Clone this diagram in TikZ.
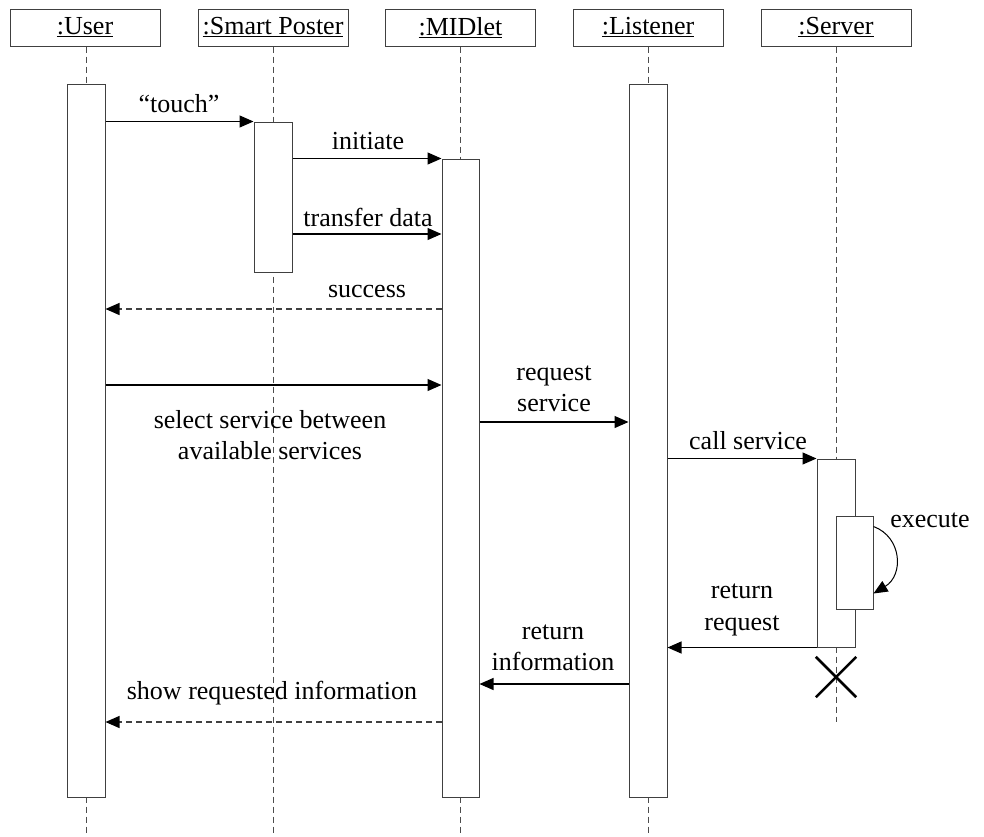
\documentclass[tikz,border=0pt]{standalone}
\usepackage{fontspec}
\setmainfont{Liberation Serif}
\usetikzlibrary{arrows.meta}
\tikzset{
  obj/.style={draw=black!75, line width=1pt, fill=white, minimum width=150pt, minimum height=37pt, inner sep=0pt, font=\fontsize{26}{31}\selectfont},
  act/.style={draw=black!75, line width=1pt, fill=white, minimum width=38pt, inner sep=0pt},
  life/.style={draw=black!70, line width=1pt, dash pattern=on 6pt off 4pt},
  msg/.style={draw=black, line width=1.2pt, -{Triangle[length=14pt,width=12pt]}},
  reply/.style={draw=black!75, line width=1.2pt, dash pattern=on 6pt off 4pt, -{Triangle[length=14pt,width=12pt,color=black]}},
  lbl/.style={font=\fontsize{26}{31.5}\selectfont, align=center, inner sep=0pt},
}
\begin{document}
\begin{tikzpicture}[x=1pt,y=-1pt]
\useasboundingbox (0,0) rectangle (984,836);
% object heads
\node[obj] (user) at (85,27.5) {\underline{:User}};
\node[obj] (poster) at (273,27.5) {\underline{:Smart Poster}};
\node[obj] (midlet) at (460.5,27.5) {\underline{:MIDlet}};
\node[obj] (listener) at (648,27.5) {\underline{:Listener}};
\node[obj] (server) at (836,27.5) {\underline{:Server}};
% lifelines
\coordinate (userend) at (86,836);
\coordinate (posterend) at (273,836);
\coordinate (midletend) at (460.5,836);
\coordinate (listenerend) at (648,836);
\coordinate (serverend) at (836,722);
\draw[life] (user.south -| userend) -- (userend);
\draw[life] (poster.south) -- (posterend);
\draw[life] (midlet.south) -- (midletend);
\draw[life] (listener.south) -- (listenerend);
\draw[life] (server.south) -- (serverend);
% activation bars
\node[act, minimum height=713pt] (uact) at (86,440.5) {};
\node[act, minimum height=150pt] (pact) at (273,197) {};
\node[act, minimum width=37pt, minimum height=638pt] (mact) at (460.5,478) {};
\node[act, minimum height=713pt] (lact) at (648,440.5) {};
\node[act, minimum height=188pt] (sact) at (836,553) {};
\node[act, minimum width=37pt, minimum height=93pt] (eact) at (854.5,562.5) {};
% destruction mark
\node[minimum size=40pt, inner sep=0pt] (kill) at (836,677) {};
\draw[line width=2.5pt] (kill.north west) -- (kill.south east)
  (kill.north east) -- (kill.south west);
% messages
\draw[msg] (uact.east |- pact.north) -- (pact.west |- pact.north);
\node[lbl] (t1) at (179,104) {“touch”};
\draw[msg] (pact.east |- mact.north) -- (mact.west |- mact.north);
\node[lbl] (t2) at (368,141) {initiate};
\coordinate (ytd) at (0,234);
\draw[msg] (pact.east |- ytd) -- (mact.west |- ytd);
\node[lbl] (t3) at (368,217) {transfer data};
\coordinate (ysu) at (0,309);
\draw[reply] (mact.west |- ysu) -- (uact.east |- ysu);
\node[lbl] (t4) at (367,291) {success};
\coordinate (ysel) at (0,385);
\draw[msg] (uact.east |- ysel) -- (mact.west |- ysel);
\node[lbl] (t5) at (270,435) {select service between\\available services};
\coordinate (yrq) at (0,422);
\draw[msg] (mact.east |- yrq) -- (lact.west |- yrq);
\node[lbl] (t6) at (554,389) {request\\service};
\draw[msg] (lact.east |- sact.north) -- (sact.west |- sact.north);
\node[lbl] (t7) at (748,441) {call service};
\draw[draw=black, line width=1pt, -{Triangle[length=14pt,width=12pt]}]
  ([yshift=-11pt]eact.north east) .. controls (902,537) and (904,575) .. ([yshift=16pt]eact.south east);
\node[lbl] (t8) at (930,520) {execute};
\draw[msg] (sact.south west) -- (lact.east |- sact.south);
\node[lbl] (t9) at (742,610) {return\\request};
\coordinate (yri) at (0,684);
\draw[msg] (lact.west |- yri) -- (mact.east |- yri);
\node[lbl] (t10) at (553,648) {return\\information};
\coordinate (ysh) at (0,722);
\draw[reply] (mact.west |- ysh) -- (uact.east |- ysh);
\node[lbl] (t11) at (272,693) {show requested information};
\end{tikzpicture}
\end{document}
